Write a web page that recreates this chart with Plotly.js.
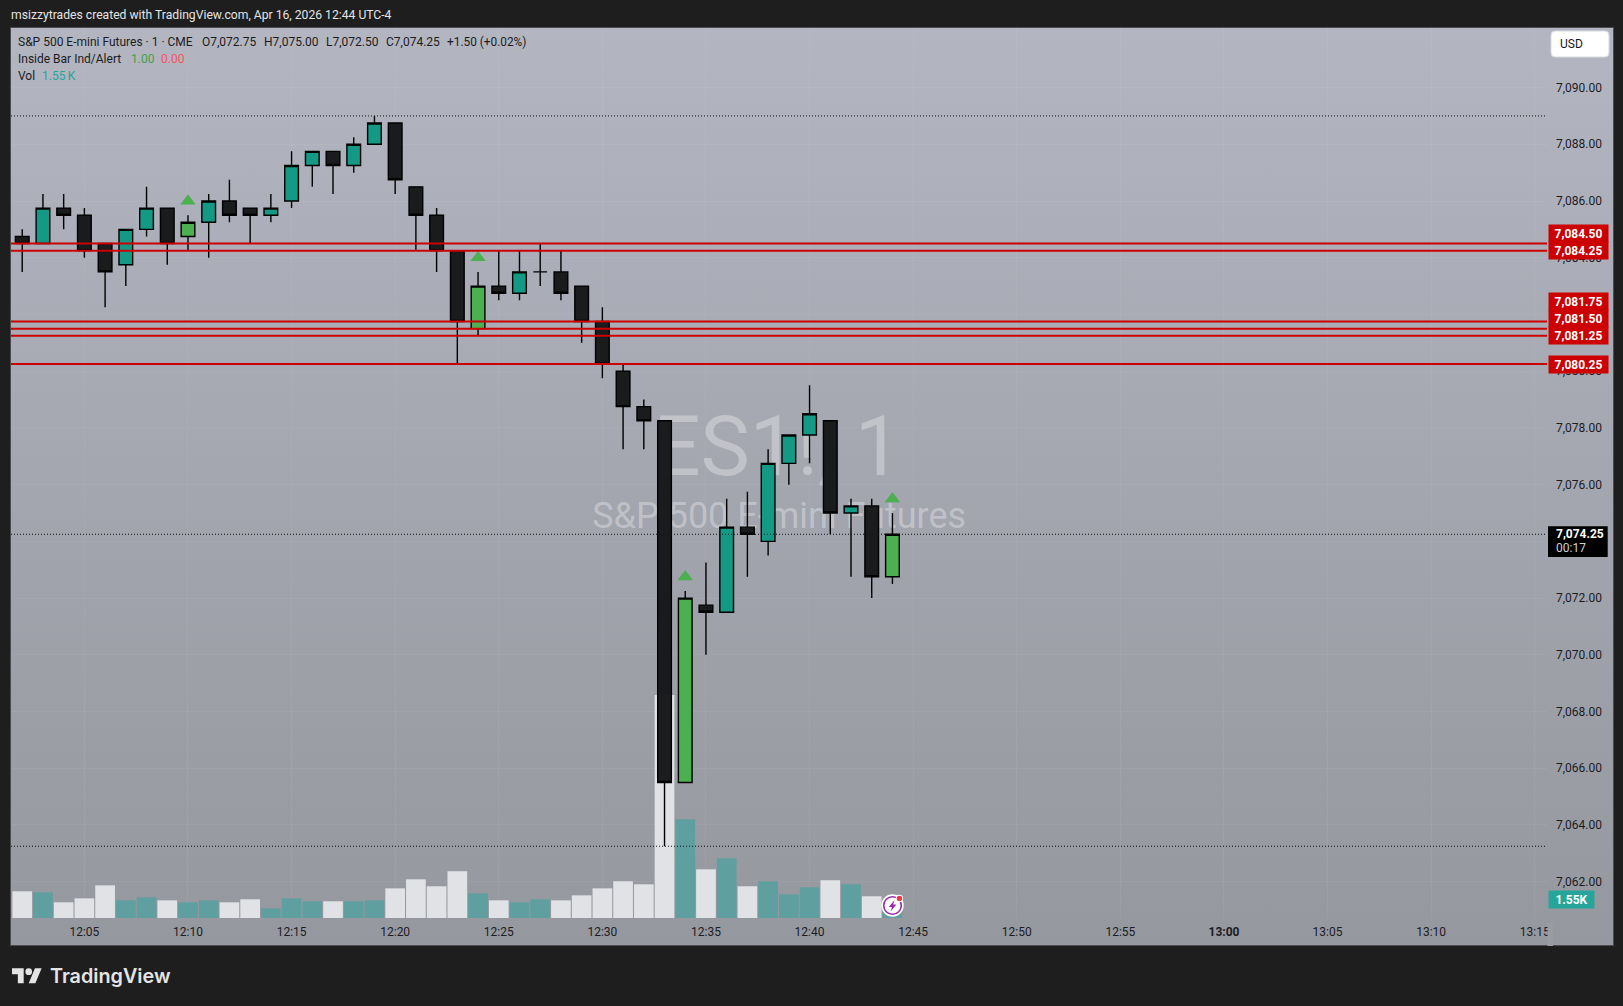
<!DOCTYPE html>
<html>
<head>
<meta charset="utf-8">
<script src="https://cdn.plot.ly/plotly-3.0.1.min.js"></script>
<style>
html,body{margin:0;padding:0;background:#1e1e1e;width:1623px;height:1006px;overflow:hidden}
#frame{position:absolute;left:10px;top:27px;width:1602px;height:917px;border:1px solid #4c4c4e;
background:linear-gradient(180deg,#b3b6c1 0%,#a5a7b1 45%,#96989f 100%)}
#chart{position:absolute;left:0;top:0;width:1623px;height:1006px}
</style>
</head>
<body>
<div id="frame"></div>
<div id="chart"></div>
<script>
// ---- chart values ----
const times = ['12:02','12:03','12:04','12:05','12:06','12:07','12:08','12:09','12:10','12:11','12:12','12:13','12:14','12:15','12:16','12:17','12:18','12:19','12:20','12:21','12:22','12:23','12:24','12:25','12:26','12:27','12:28','12:29','12:30','12:31','12:32','12:33','12:34','12:35','12:36','12:37','12:38','12:39','12:40','12:41','12:42','12:43','12:44'];
const opens = [7084.75,7084.5,7085.75,7085.5,7084.5,7083.75,7085,7085.75,7084.75,7085.25,7086,7085.75,7085.5,7086,7087.25,7087.75,7087.25,7088,7088.75,7086.5,7085.5,7084.25,7081.5,7083,7082.75,7083.5,7083.5,7083,7081.75,7080,7078.75,7078.25,7065.5,7071.75,7071.5,7074.5,7074,7076.75,7077.75,7078.25,7075,7075.25,7072.75];
const highs = [7085,7086.25,7086.25,7085.75,7084.5,7085,7086.5,7085.75,7085.5,7086.25,7086.75,7085.75,7086.25,7087.75,7087.75,7087.75,7088.25,7089,7088.75,7086.5,7085.75,7084.25,7083.5,7084.25,7084.25,7084.5,7084.25,7083,7082.25,7080.25,7079,7078.25,7072.25,7073.25,7075.5,7075.75,7077.25,7077.75,7079.5,7078.25,7075.5,7075.5,7075];
const lows = [7083.5,7084.5,7085,7084,7082.25,7083,7084.75,7083.75,7084.25,7084,7085.25,7084.5,7085.25,7085.75,7086.5,7086.25,7087,7088,7086.25,7084.25,7083.5,7080.25,7081.25,7082.5,7082.5,7083,7082.5,7081,7079.75,7077.25,7077.25,7063.25,7065.5,7070,7071.5,7072.75,7073.5,7076,7076.75,7074.25,7072.75,7072,7072.5];
const closes = [7084.5,7085.75,7085.5,7084.25,7083.5,7085,7085.75,7084.5,7085.25,7086,7085.5,7085.5,7085.75,7087.25,7087.75,7087.25,7088,7088.75,7086.75,7085.5,7084.25,7081.75,7083,7082.75,7083.5,7083.5,7082.75,7081.75,7080.25,7078.75,7078.25,7065.5,7072,7071.5,7074.5,7074.25,7076.75,7077.75,7078.5,7075,7075.25,7072.75,7074.25];
const volumesK = [2.30,2.21,1.35,1.69,2.81,1.52,1.78,1.52,1.35,1.52,1.35,1.61,0.83,1.69,1.44,1.44,1.44,1.52,2.55,3.33,2.73,4.02,2.12,1.52,1.35,1.61,1.52,1.95,2.55,3.16,2.90,19.2,8.50,4.19,5.14,2.73,3.16,2.04,2.64,3.25,2.90,1.87,1.55];
const insideBarTimes = ['12:10','12:24','12:34','12:44'];
const insideMarkerPrices = [7086.0,7084.0,7072.75,7075.5];
const redLevels = [7084.5,7084.25,7081.75,7081.5,7081.25,7080.25];
const redLabelShifts = [9.7,0,20,9.8,0,0];
const dottedLevels = [7089,7074.25,7063.25];
const priceTicks = [7062,7064,7066,7068,7070,7072,7074,7076,7078,7080,7082,7084,7086,7088,7090];
const timeTicks = ['12:05','12:10','12:15','12:20','12:25','12:30','12:35','12:40','12:45','12:50','12:55','13:00','13:05','13:10','13:15'];
const lastPrice = 7074.25;
const priceRange = [7060.72,7092.1];
const volumeRange = [0,76.6];
const timeRange = ['2026-04-16 12:01:27.5','2026-04-16 13:15:35.5'];

// ---- page geometry helpers (real picture pixels) ----
const PL=11, PR=1547, PT=28, PB=918;
const d = t => '2026-04-16 '+t;
const fx = x => (x-PL)/(PR-PL);
const fy = y => (PB-y)/(PB-PT);
const fmt = v => v.toLocaleString('en-US',{minimumFractionDigits:2,maximumFractionDigits:2});

const FONT='Roboto, "Liberation Sans", sans-serif';
const DARK='#1b1c1f';
function txt(x,y,text,color,size,extra){
  return Object.assign({xref:'paper',yref:'paper',x:fx(x),y:fy(y),text,showarrow:false,xanchor:'left',yanchor:'middle',
    borderpad:0,font:{family:FONT,size:size||12,color:color||DARK}},extra||{});
}
function pxShape(extra){
  return Object.assign({xref:'paper',yref:'paper',xsizemode:'pixel',ysizemode:'pixel',xanchor:0,yanchor:0,layer:'above',line:{width:0}},extra);
}
function pxRect(x0,y0,x1,y1,fill){
  return pxShape({type:'rect',x0:x0-PL,x1:x1-PL,y0:PB-y0,y1:PB-y1,fillcolor:fill});
}
function pxCircle(cx,cy,r,fill,line){
  return pxShape({type:'circle',x0:cx-r-PL,x1:cx+r-PL,y0:PB-cy-r,y1:PB-cy+r,fillcolor:fill,line:line||{width:0}});
}
function pxPath(points,fill,line){ // points: [[x,y],...] closed
  const p=points.map((q,i)=>(i?'L':'M')+(q[0]-PL).toFixed(2)+','+(PB-q[1]).toFixed(2)).join(' ')+' Z';
  return pxShape({type:'path',path:p,fillcolor:fill,line:line||{width:0}});
}
function roundRect(x0,y0,x1,y1,r,fill,line){
  const X=v=>(v-PL).toFixed(2),Y=v=>(PB-v).toFixed(2);
  const p=`M${X(x0+r)},${Y(y0)} L${X(x1-r)},${Y(y0)} Q${X(x1)},${Y(y0)} ${X(x1)},${Y(y0+r)} L${X(x1)},${Y(y1-r)} Q${X(x1)},${Y(y1)} ${X(x1-r)},${Y(y1)} L${X(x0+r)},${Y(y1)} Q${X(x0)},${Y(y1)} ${X(x0)},${Y(y1-r)} L${X(x0)},${Y(y0+r)} Q${X(x0)},${Y(y0)} ${X(x0+r)},${Y(y0)} Z`;
  return pxShape({type:'path',path:p,fillcolor:fill,line:line||{width:0}});
}

// ---- traces ----
const isInside = times.map(t=>insideBarTimes.includes(t));
const pick = (arr,flag) => arr.filter((_,i)=>isInside[i]===flag);
const BLACK='rgba(20,21,23,0.96)';
const candleCommon = {type:'candlestick',yaxis:'y3',xaxis:'x',whiskerwidth:0,hoverinfo:'skip',showlegend:false};

const regular = Object.assign({},candleCommon,{
  x:pick(times,false).map(d),open:pick(opens,false),high:pick(highs,false),low:pick(lows,false),close:pick(closes,false),
  increasing:{fillcolor:'#149a84',line:{color:'#000',width:1.4}},
  decreasing:{fillcolor:BLACK,line:{color:'#000',width:1.4}}
});
const inside = Object.assign({},candleCommon,{
  x:pick(times,true).map(d),open:pick(opens,true),high:pick(highs,true),low:pick(lows,true),close:pick(closes,true),
  increasing:{fillcolor:'#4caf50',line:{color:'#000',width:1.4}},
  decreasing:{fillcolor:'#4caf50',line:{color:'#000',width:1.4}}
});
const volume = {type:'bar',yaxis:'y2',xaxis:'x',x:times.map(d),y:volumesK,
  marker:{color:times.map((_,i)=>closes[i]>=opens[i]?'#5f9f9f':'#e1e2e5'),line:{width:0}},
  hoverinfo:'skip',showlegend:false};
const markers = {type:'scatter',mode:'markers',yaxis:'y3',xaxis:'x',x:insideBarTimes.map(d),y:insideMarkerPrices,
  marker:{symbol:'triangle-up',size:13.5,color:'#4caf50',line:{width:0}},hoverinfo:'skip',showlegend:false};
const watermark = {type:'scatter',mode:'text',yaxis:'y',xaxis:'x',
  x:[d('12:38:27'),d('12:38:32')],y:[7077.08,7074.78],
  text:['ES1!, 1','S&P 500 E-mini Futures'],textposition:'middle center',
  textfont:{family:FONT,size:[83,36],color:'rgba(255,255,255,0.32)'},hoverinfo:'skip',showlegend:false};

// ---- shapes ----
const shapes = [];
dottedLevels.forEach(v=>shapes.push({type:'line',xref:'paper',x0:0,x1:1,yref:'y3',y0:v,y1:v,layer:'above',line:{color:'#111',width:1,dash:'1px,2px'}}));
redLevels.forEach(v=>shapes.push({type:'line',xref:'paper',x0:0,x1:1,yref:'y3',y0:v,y1:v,layer:'above',line:{color:'#cc0000',width:2}}));
// clip of the last time label
shapes.push(pxRect(1547.5,923,1553,946,'#9a9ca5'));
// USD button
shapes.push(roundRect(1551,31,1609,57,4,'#ffffff',{color:'#d8d9de',width:1}));
// TradingView logo
const LX=12, LY=965, LS=0.835;
const lg=(x,y)=>[LX+x*LS,LY+y*LS];
shapes.push(pxPath([lg(0,4),lg(14,4),lg(14,22),lg(7,22),lg(7,11),lg(0,11)],'#e4e4e4'));
shapes.push(pxPath([lg(27.5,4),lg(35.5,4),lg(28,22),lg(20,22)],'#e4e4e4'));
shapes.push(pxCircle(lg(20,8)[0],lg(20,8)[1],4*LS,'#e4e4e4'));
// last-price box
shapes.push(pxShape({type:'rect',yref:'y3',yanchor:lastPrice,x0:1548-PL,x1:1607.7-PL,y0:8,y1:-22.7,fillcolor:'#000'}));
// alert icon on the last volume bar
shapes.push(pxCircle(892.5,905.5,11.2,'#ffffff'));
shapes.push(pxCircle(892.5,905.5,8.8,'#ffffff',{color:'#9c27b0',width:1.6}));
shapes.push(pxPath([[894.6,900],[888.8,907],[892,907],[890.6,911.6],[896.4,904.4],[893.2,904.4]],'#9c27b0'));
shapes.push(pxCircle(899.4,898.4,3.7,'#ffffff'));
shapes.push(pxCircle(899.4,898.4,2.7,'#f23645'));

// ---- annotations ----
const ann = [
  txt(10,15,'msizzytrades created with TradingView.com, Apr 16, 2026 12:44 UTC-4','#e4e4e4',12.17),
  txt(17,41.7,'S&amp;P 500 E-mini Futures · 1 · CME'),
  txt(201,41.7,'O7,072.75'),txt(263,41.7,'H7,075.00'),txt(324.7,41.7,'L7,072.50'),txt(384.8,41.7,'C7,074.25'),
  txt(445.6,41.7,'+1.50 (+0.02%)',DARK,11.85),
  txt(17,58.7,'Inside Bar Ind/Alert'),txt(130,58.7,'1.00','#43a047'),txt(160,58.7,'0.00','#f7525f'),
  txt(17,75.7,'Vol'),txt(41,75.7,'1.55\u2009K','#26a69a'),
  txt(1559,44.5,'USD','#131722',12),
  txt(48.6,975.5,'TradingView','#e4e4e4',19.8,{font:{family:'Inter, Roboto, sans-serif',size:19.8,weight:600,color:'#e4e4e4'}}),
];
redLevels.forEach((v,i)=>ann.push({xref:'paper',x:fx(1548),yref:'y3',y:v,xanchor:'left',yanchor:'middle',yshift:redLabelShifts[i],
  showarrow:false,text:'<b>'+fmt(v)+'</b>',width:59,height:17,borderpad:0,bgcolor:'#cc0000',align:'center',
  font:{family:FONT,size:12,color:'#fff'}}));
ann.push({xref:'paper',x:fx(1555),yref:'y3',y:lastPrice,xanchor:'left',yanchor:'middle',showarrow:false,
  text:'<b>'+fmt(lastPrice)+'</b>',borderpad:0,font:{family:FONT,size:12,color:'#fff'}});
ann.push({xref:'paper',x:fx(1555),yref:'y3',y:lastPrice,xanchor:'left',yanchor:'middle',yshift:-14,showarrow:false,
  text:'00:17',borderpad:0,font:{family:FONT,size:12,color:'#d0d0d0'}});
ann.push({xref:'paper',x:fx(1548),yref:'y2',y:volumesK[volumesK.length-1],xanchor:'left',yanchor:'middle',showarrow:false,
  text:'<b>'+volumesK[volumesK.length-1].toFixed(2)+'K</b>',width:45,height:17,borderpad:0,bgcolor:'#26a69a',align:'center',
  font:{family:FONT,size:12,color:'#fff'}});

const GRID='rgba(255,255,255,0.05)';
const layout = {
  width:1623,height:1006,paper_bgcolor:'rgba(0,0,0,0)',plot_bgcolor:'rgba(0,0,0,0)',
  margin:{l:PL,r:1623-PR,t:PT,b:1006-PB,pad:0},
  showlegend:false,hovermode:false,dragmode:false,bargap:0.05,boxgap:0.34,boxgroupgap:0,boxmode:'overlay',
  font:{family:FONT,size:12,color:DARK},
  xaxis:{type:'date',range:timeRange,tickmode:'array',tickvals:timeTicks.map(d),
    ticktext:timeTicks.map(t=>t==='13:00'?'<b>'+t+'</b>':t),ticks:'',showline:false,zeroline:false,showgrid:true,gridcolor:GRID,gridwidth:1,
    rangeslider:{visible:false},tickfont:{family:FONT,size:12,color:DARK},tickangle:0,automargin:false,ticklabelstandoff:5},
  yaxis:{side:'right',range:priceRange,tickmode:'array',tickvals:priceTicks,ticktext:priceTicks.map(fmt),ticks:'',
    showline:false,zeroline:false,showgrid:true,gridcolor:GRID,gridwidth:1,tickfont:{family:FONT,size:12,color:DARK},
    ticklabelstandoff:8,automargin:false},
  yaxis2:{overlaying:'y',range:volumeRange,visible:false,fixedrange:true},
  yaxis3:{overlaying:'y',range:priceRange,visible:false,fixedrange:true},
  shapes:shapes,annotations:ann
};
Plotly.newPlot('chart',[watermark,volume,regular,inside,markers],layout,{staticPlot:true,displayModeBar:false,responsive:false});
</script>
</body>
</html>
